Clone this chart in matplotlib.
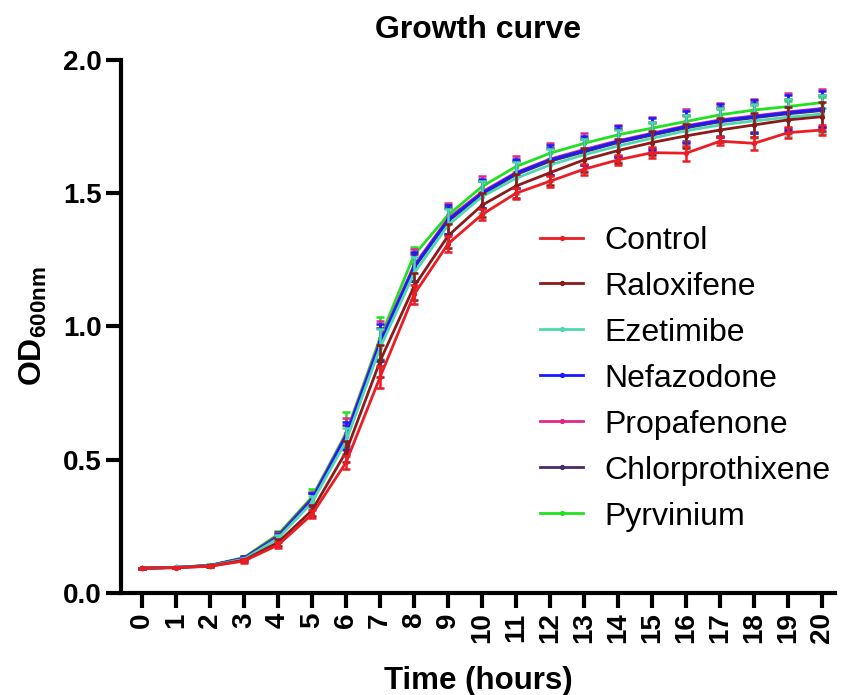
import numpy as np
import matplotlib
matplotlib.use("Agg")
import matplotlib.pyplot as plt
from matplotlib.lines import Line2D

plt.rcParams['font.family'] = ['Liberation Sans', 'DejaVu Sans']
plt.rcParams['mathtext.fontset'] = 'custom'
plt.rcParams['mathtext.rm'] = 'Liberation Sans'
plt.rcParams['mathtext.bf'] = 'Liberation Sans:bold'

# time points (hours)
hours = list(range(21))

names = ['Control', 'Raloxifene', 'Ezetimibe', 'Nefazodone',
         'Propafenone', 'Chlorprothixene', 'Pyrvinium']
colors = ['#ec1c24', '#8b1a1a', '#4fd8b0', '#1a1aff',
          '#e0288a', '#4a2a6a', '#22e022']

control = [0.093, 0.095, 0.100, 0.120, 0.180, 0.295, 0.490, 0.810, 1.120, 1.310, 1.420,
           1.500, 1.545, 1.590, 1.625, 1.652, 1.650, 1.695, 1.687, 1.727, 1.737]
raloxifene = [0.093, 0.095, 0.101, 0.123, 0.190, 0.310, 0.530, 0.870, 1.150, 1.340, 1.455,
              1.527, 1.577, 1.625, 1.660, 1.690, 1.715, 1.737, 1.756, 1.775, 1.787]
ezetimibe = [0.093, 0.096, 0.102, 0.127, 0.205, 0.340, 0.570, 0.920, 1.200, 1.380, 1.487,
             1.556, 1.606, 1.644, 1.677, 1.706, 1.734, 1.756, 1.771, 1.785, 1.797]
nefazodone = [0.093, 0.096, 0.103, 0.130, 0.210, 0.350, 0.590, 0.940, 1.224, 1.400, 1.500,
              1.575, 1.625, 1.660, 1.694, 1.722, 1.750, 1.772, 1.787, 1.802, 1.815]
propafenone = [0.093, 0.096, 0.103, 0.130, 0.212, 0.352, 0.595, 0.945, 1.230, 1.405, 1.505,
               1.578, 1.628, 1.664, 1.697, 1.725, 1.753, 1.775, 1.790, 1.805, 1.818]
chlorprothixene = [0.093, 0.096, 0.103, 0.131, 0.215, 0.355, 0.590, 0.935, 1.220, 1.395, 1.495,
                   1.570, 1.620, 1.655, 1.690, 1.718, 1.745, 1.768, 1.783, 1.798, 1.810]
pyrvinium = [0.093, 0.096, 0.104, 0.133, 0.220, 0.360, 0.600, 0.957, 1.268, 1.418, 1.525,
             1.600, 1.650, 1.687, 1.719, 1.744, 1.769, 1.794, 1.812, 1.825, 1.840]

# standard deviations
sd_control = [0.002, 0.002, 0.003, 0.006, 0.010, 0.015, 0.025, 0.040, 0.035, 0.030, 0.020,
              0.020, 0.020, 0.020, 0.020, 0.020, 0.028, 0.015, 0.025, 0.020, 0.020]
sd_raloxifene = [0.002, 0.002, 0.003, 0.006, 0.012, 0.020, 0.040, 0.060, 0.050, 0.045, 0.045,
                 0.045, 0.045, 0.045, 0.045, 0.045, 0.045, 0.045, 0.045, 0.050, 0.055]
sd_ezetimibe = [0.002, 0.002, 0.003, 0.006, 0.012, 0.025, 0.050, 0.070, 0.060, 0.060, 0.060,
                0.060, 0.060, 0.060, 0.060, 0.060, 0.060, 0.065, 0.065, 0.070, 0.070]
sd_nefazodone = [0.002, 0.002, 0.003, 0.006, 0.012, 0.025, 0.050, 0.070, 0.055, 0.055, 0.055,
                 0.055, 0.055, 0.055, 0.058, 0.060, 0.060, 0.062, 0.062, 0.065, 0.068]
sd_propafenone = [0.002, 0.002, 0.003, 0.006, 0.012, 0.028, 0.060, 0.075, 0.060, 0.060, 0.060,
                  0.060, 0.060, 0.060, 0.060, 0.062, 0.062, 0.065, 0.065, 0.070, 0.072]
sd_chlorprothixene = [0.002, 0.002, 0.003, 0.006, 0.012, 0.020, 0.040, 0.060, 0.050, 0.050, 0.050,
                      0.050, 0.050, 0.050, 0.050, 0.050, 0.050, 0.055, 0.055, 0.055, 0.060]
sd_pyrvinium = [0.002, 0.002, 0.003, 0.006, 0.012, 0.030, 0.080, 0.078, 0.030, 0.030, 0.020,
                0.020, 0.020, 0.020, 0.020, 0.020, 0.020, 0.020, 0.020, 0.020, 0.020]

series = [control, raloxifene, ezetimibe, nefazodone, propafenone, chlorprothixene, pyrvinium]
errors = [sd_control, sd_raloxifene, sd_ezetimibe, sd_nefazodone, sd_propafenone,
          sd_chlorprothixene, sd_pyrvinium]

fig = plt.figure(figsize=(8.42, 6.95), dpi=100)
ax = fig.add_axes([0.1437, 0.1468, 0.848, 0.767])

# draw backwards so Control ends up on top
for i in reversed(range(len(names))):
    ax.errorbar(hours, series[i], yerr=errors[i], color=colors[i], lw=2.0,
                marker='o', ms=2.8, capsize=3.2, capthick=1.8, elinewidth=1.8,
                zorder=3 + (len(names) - i))

ax.set_xlim(-0.62, 20.38)
ax.set_ylim(0, 2.0)
ax.set_xticks(hours)
ax.set_xticklabels([str(h) for h in hours], rotation=90, fontsize=20, fontweight='bold')
ax.set_yticks([0.0, 0.5, 1.0, 1.5, 2.0])
ax.set_yticklabels(['0.0', '0.5', '1.0', '1.5', '2.0'], fontsize=20, fontweight='bold')
ax.tick_params(axis='both', direction='out', length=11, width=3.0, pad=3)

for s in ['top', 'right']:
    ax.spines[s].set_visible(False)
for s in ['left', 'bottom']:
    ax.spines[s].set_linewidth(3.0)

ax.set_title('Growth curve', fontsize=23, fontweight='bold', pad=16)
ax.set_xlabel('Time (hours)', fontsize=22.5, fontweight='bold', labelpad=16)
ax.set_ylabel(r'OD$_{\mathbf{600nm}}$', fontsize=23, fontweight='bold', labelpad=10)

# legend shows only line + dot, no error bars
handles = [Line2D([0], [0], color=c, lw=2.0, marker='o', ms=2.8) for c in colors]
ax.legend(handles=handles, labels=names, loc='upper left',
          bbox_to_anchor=(0.587, 0.689), frameon=False, fontsize=23,
          handlelength=1.35, handletextpad=0.65, labelspacing=0.50,
          borderpad=0, borderaxespad=0)

fig.savefig('out.png', dpi=100)
